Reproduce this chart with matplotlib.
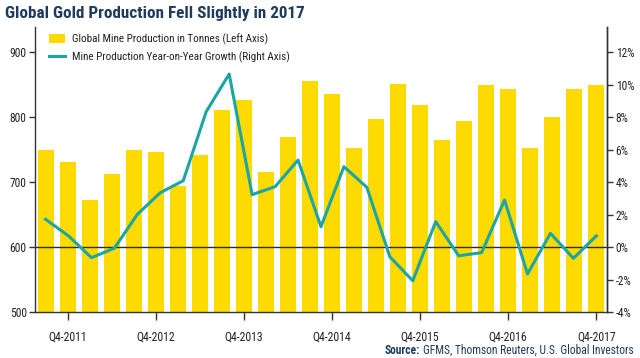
import numpy as np
import matplotlib
matplotlib.use("Agg")
import matplotlib.pyplot as plt

plt.rcParams["font.family"] = ["Roboto Condensed", "DejaVu Sans"]

# ── data ───────────────────────────────────────────────────────────────────
QUARTERS = [
    "Q3-2011", "Q4-2011", "Q1-2012", "Q2-2012", "Q3-2012", "Q4-2012",
    "Q1-2013", "Q2-2013", "Q3-2013", "Q4-2013", "Q1-2014", "Q2-2014",
    "Q3-2014", "Q4-2014", "Q1-2015", "Q2-2015", "Q3-2015", "Q4-2015",
    "Q1-2016", "Q2-2016", "Q3-2016", "Q4-2016", "Q1-2017", "Q2-2017",
    "Q3-2017", "Q4-2017",
]
PRODUCTION = [
    750, 731, 673, 713, 750, 746, 694, 742, 812, 826, 716, 770, 856,
    836, 752, 798, 852, 819, 765, 795, 849, 844, 752, 801, 844, 849,
]
# YoY growth series (%), 25 points drawn across the same span as the bars
GROWTH = [
    1.72, 0.70, -0.64, -0.05, 2.03, 3.36, 4.10, 8.35, 10.66, 3.24, 3.73,
    5.37, 1.27, 4.96, 3.69, -0.58, -2.06, 1.58, -0.52, -0.33, 2.91,
    -1.64, 0.86, -0.68, 0.70,
]
XTICK_LABELS = ["Q4-2011", "Q4-2012", "Q4-2013", "Q4-2014", "Q4-2015", "Q4-2016", "Q4-2017"]

GOLD = "#FEDB00"
TEAL = "#1BA5A4"
NAVY = "#1E3B5C"
AXIS = "#333333"

fig = plt.figure(figsize=(6.4, 3.58), dpi=100)
ax = fig.add_axes([0.0547, 0.1277, 0.8943, 0.797])

x = np.arange(len(QUARTERS))
bars = ax.bar(x, PRODUCTION, width=0.73, color=GOLD, zorder=2,
              label="Global Mine Production in Tonnes (Left Axis)")
ax.set_xlim(-0.48, len(QUARTERS) - 0.5)
ax.set_ylim(500, 939)
ax.set_yticks([500, 600, 700, 800, 900])
ax.axhline(600, color="#2a2a2a", lw=1.0, zorder=3)

tick_pos = [QUARTERS.index(q) for q in XTICK_LABELS]
ax.set_xticks(tick_pos)
ax.set_xticklabels(XTICK_LABELS)

ax2 = ax.twinx()
gx = np.linspace(0, len(QUARTERS) - 1, len(GROWTH))
line, = ax2.plot(gx, GROWTH, color=TEAL, lw=2.2, zorder=4,
                 label="Mine Production Year-on-Year Growth (Right Axis)")
ax2.set_ylim(-4, 13.56)
ax2.set_yticks(np.arange(-4, 13, 2))
ax2.set_yticklabels([f"{v}%" for v in range(-4, 13, 2)])

for a in (ax, ax2):
    a.spines["top"].set_visible(False)
    for s in ("left", "right", "bottom"):
        a.spines[s].set_color(AXIS)
        a.spines[s].set_linewidth(1.0)
    a.tick_params(colors=AXIS, labelcolor="#222222", labelsize=8.3, length=4, width=1, pad=2)
ax.tick_params(axis="x", length=6, pad=7, labelsize=8.5)
ax2.spines["left"].set_visible(False)
ax2.spines["bottom"].set_visible(False)

leg = ax.legend([bars, line], [bars.get_label(), line.get_label()],
                loc="upper left", bbox_to_anchor=(0.012, 1.0), frameon=False,
                fontsize=8, handlelength=1.5, handleheight=0.9, handletextpad=0.6,
                labelspacing=0.55, borderaxespad=0.2)
for t in leg.get_texts():
    t.set_color("#222222")

fig.text(0.008, 0.963, "Global Gold Production Fell Slightly in 2017", color=NAVY,
         fontsize=12.3, fontweight="bold", ha="left", va="center")

src = fig.text(0.99, 0.022, "GFMS, Thomson Reuters, U.S. Global Investors",
               color=NAVY, fontsize=8.3, ha="right", va="center")
fig.canvas.draw()
bb = src.get_window_extent()
fig.text(bb.x0 / fig.bbox.width - 0.004, 0.022, "Source:", color=NAVY, fontsize=8.3,
         fontweight="bold", ha="right", va="center")

fig.savefig("out.png", dpi=100)
